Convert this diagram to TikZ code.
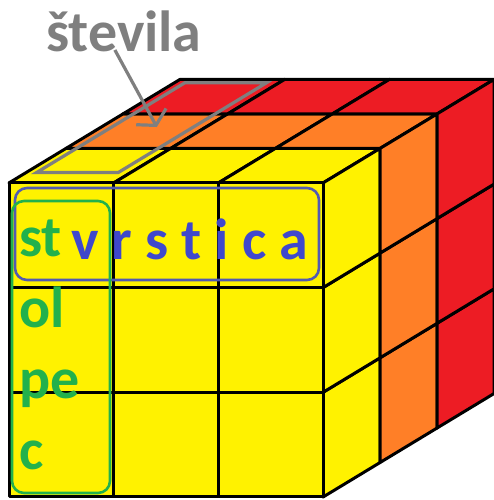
\documentclass[tikz,border=0pt]{standalone}
\usepackage{fontspec}
\setmainfont{Carlito}
\definecolor{paintyellow}{RGB}{255, 242, 0}
\definecolor{paintorange}{RGB}{255, 127, 39}
\definecolor{paintred}{RGB}{237, 28, 36}
\definecolor{paintgreen}{RGB}{34, 177, 76}
\definecolor{paintblue}{RGB}{63, 72, 204}
\definecolor{framblue}{RGB}{82, 90, 178}
\definecolor{paintgray}{RGB}{127, 127, 127}
\usepackage{tikz}
\usetikzlibrary{arrows.meta, positioning, calc}

\begin{document}
\begin{tikzpicture}[
    x=104.7pt, y=104.7pt, z={(57pt,34.5pt)},
    cell/.style={draw=black, line width=3pt, line join=round},
    frame/.style={rounded corners=12pt, line width=2.6pt},
    bigtext/.style={font=\bfseries\fontsize{58}{70}\selectfont, inner sep=0pt, anchor=base west},
    pointer/.style={draw=paintgray, line width=3.2pt, -{Straight Barb[length=10pt, width=34pt]}}
  ]
  \useasboundingbox (0pt,0pt) rectangle (494pt,500pt);

  % the 3x3x3 cube, one colour per layer
  \begin{scope}[shift={(9pt,3pt)}]
    \foreach \k/\col in {0/paintyellow, 1/paintorange, 2/paintred} {
      \foreach \i in {0,1,2} {
        \draw[cell, fill=\col] (\i,3,\k) -- (\i+1,3,\k) -- (\i+1,3,\k+1) -- (\i,3,\k+1) -- cycle;
        \draw[cell, fill=\col] (3,\i,\k) -- (3,\i+1,\k) -- (3,\i+1,\k+1) -- (3,\i,\k+1) -- cycle;
      }
    }
    \foreach \i in {0,1,2}
      \foreach \j in {0,1,2}
        \draw[cell, fill=paintyellow] (\i,\j,0) rectangle (\i+1,\j+1,0);

    % one cell column on the top face
    \draw[paintgray, line width=3.2pt] (0.1,3,0.3) -- (0.88,3,0.3) -- (0.88,3,2.9) -- (0.1,3,2.9) -- cycle;
    \coordinate (tip) at (0.53,3,1.62);
  \end{scope}

  \node[bigtext, text=paintgray] (stevila) at (46pt,448pt) {števila};
  \draw[pointer] ([xshift=-9pt, yshift=2pt]stevila.base) -- (tip);

  % row and column
  \draw[frame, framblue] (15pt,220pt) rectangle (319pt,312pt);
  \draw[frame, paintgreen] (12pt,7pt) rectangle (110pt,299pt);
  \node[bigtext, text=paintblue] (vrstica) at (71pt,240pt) {v r s t i c a};
  \foreach \t [count=\n] in {st, ol, pe, c}
    \node[bigtext, text=paintgreen] (stolpec\n) at (19pt, 243pt-71pt*\n+71pt) {\t};
\end{tikzpicture}
\end{document}
